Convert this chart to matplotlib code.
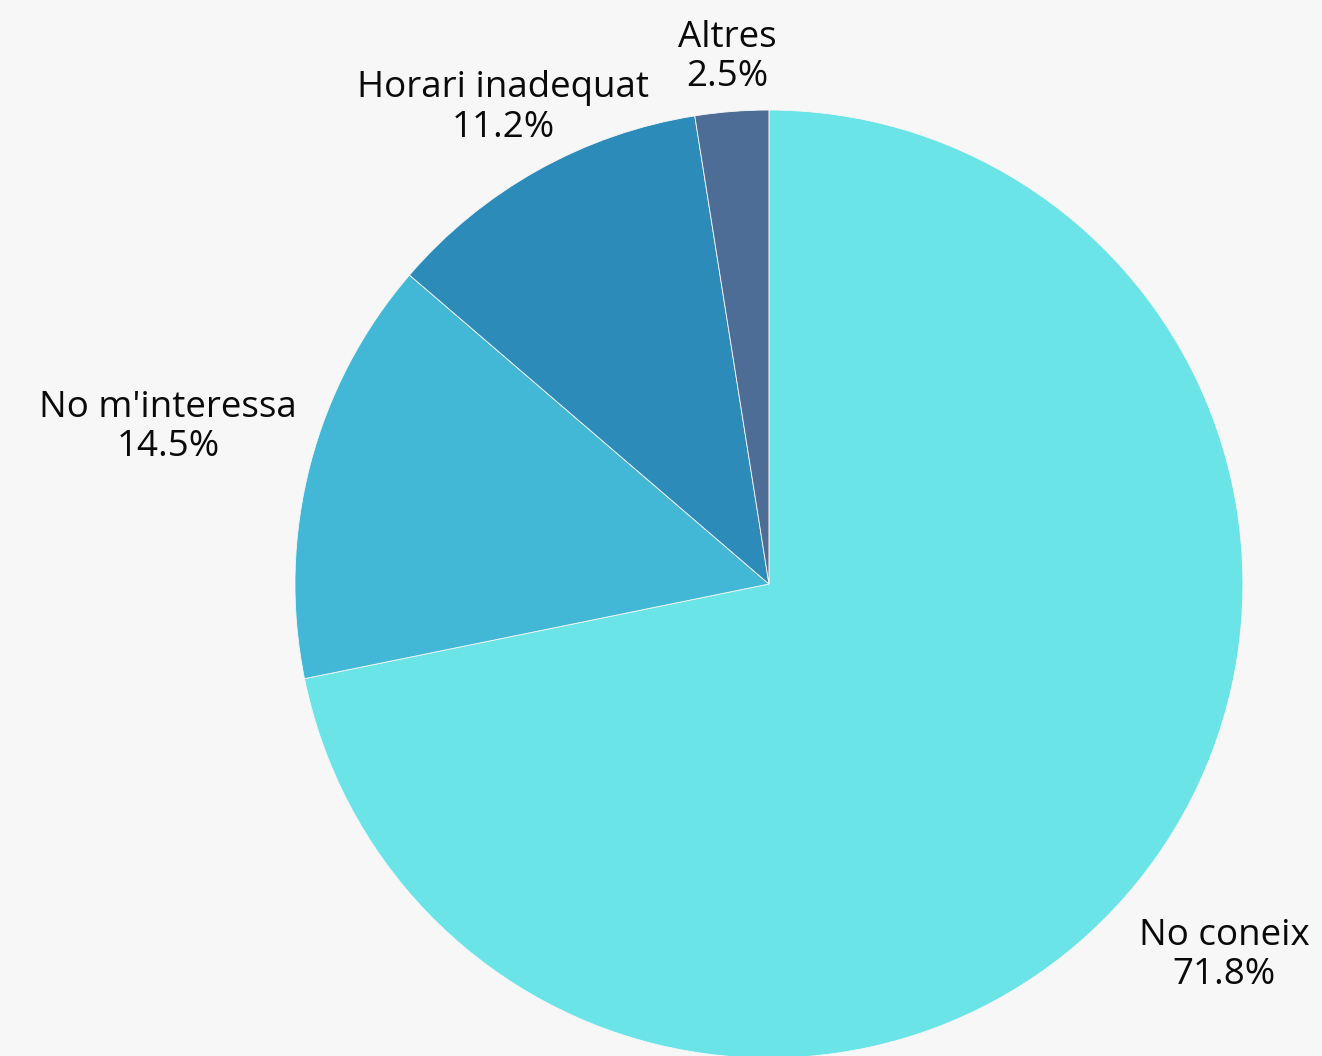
import numpy as np
import matplotlib
matplotlib.use("Agg")
import matplotlib.pyplot as plt

# Motius per no participar
categories = ["No coneix", "No m'interessa", "Horari inadequat", "Altres"]
percentages = [71.8, 14.5, 11.2, 2.5]
colors = ["#6BE4E8", "#43B7D6", "#2D8BB9", "#4E6D96"]

# distancia radial de cada etiqueta (en radis del pastis)
label_r = [1.24, 1.31, 1.15, 1.115]

plt.rcParams["font.family"] = ["Open Sans", "DejaVu Sans"]

fig = plt.figure(figsize=(13.22, 10.56), dpi=100, facecolor="#F7F7F7")
ax = fig.add_axes([0.2231, -0.0019, 0.7171, 0.8977])
ax.set_facecolor("#F7F7F7")

wedges, _ = ax.pie(percentages, colors=colors, startangle=90, counterclock=False,
                   radius=1.0, wedgeprops=dict(edgecolor="#F7F7F7", linewidth=0.6))

for w, name, pct, r in zip(wedges, categories, percentages, label_r):
    ang = np.deg2rad((w.theta1 + w.theta2) / 2)
    ax.text(r * np.cos(ang), r * np.sin(ang), f"{name}\n{pct}%",
            ha="center", va="center", multialignment="center",
            fontsize=26.5, color="#0a0a0a", linespacing=1.12)

ax.set_xlim(-1, 1)
ax.set_ylim(-1, 1)
ax.set_aspect("equal")
ax.axis("off")

fig.savefig("out.png", dpi=100, facecolor=fig.get_facecolor())
